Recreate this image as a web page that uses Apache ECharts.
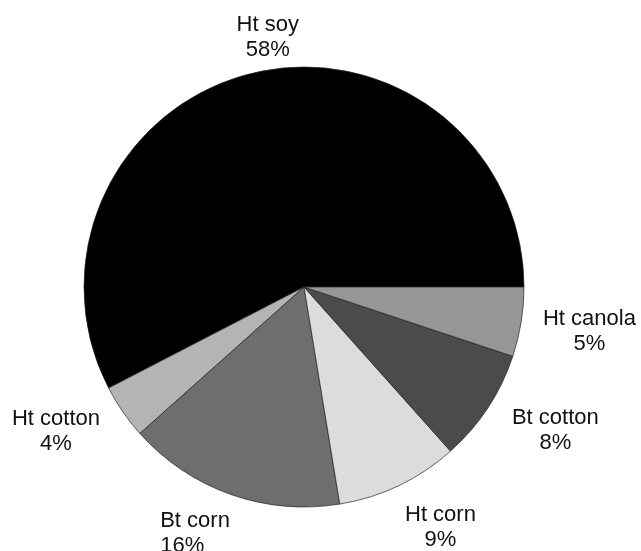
<!DOCTYPE html>
<html>
<head>
<meta charset="utf-8">
<script src="https://cdn.jsdelivr.net/npm/echarts@6/dist/echarts.min.js"></script>
<style>
  html, body { margin: 0; padding: 0; background: #fff; }
  #chart { width: 641px; height: 551px; }
</style>
</head>
<body>
<div id="chart"></div>
<script>
// slice order counter-clockwise from 3 o'clock
var names = ["Ht soy", "Ht cotton", "Bt corn", "Ht corn", "Bt cotton", "Ht canola"];
var shares = [57.6, 4.0, 16.0, 9.0, 8.3, 5.1];
var colors = ["#000000", "#b4b4b4", "#6e6e6e", "#dcdcdc", "#4b4b4b", "#969696"];

// label tweaks (px) on top of the outside-end placement, and text alignment
var labelNudge = [[26, 6], [-20, -13], [-21, -3], [22, 1], [20, -9], [5, -1]];
var labelAlign = ["center", "center", "left", "center", "center", "center"];

var cx = 304, cy = 287, radius = 220;
var total = shares.reduce(function (a, b) { return a + b; }, 0);

// mid angle of each slice (degrees, ccw from east)
var midAngles = [];
var acc = 0;
for (var i = 0; i < shares.length; i++) {
  var sweep = shares[i] / total * 360;
  midAngles.push(acc + sweep / 2);
  acc += sweep;
}

var chart = echarts.init(document.getElementById("chart"));

var option = {
  backgroundColor: "#fff",
  animation: false,
  series: [{
    type: "pie",
    center: [cx, cy],
    radius: radius,
    startAngle: 0,
    clockwise: false,
    data: names.map(function (n, i) {
      return { name: n, value: shares[i], itemStyle: { color: colors[i] } };
    }),
    itemStyle: { borderColor: "#222", borderWidth: 0.7 },
    label: {
      show: true,
      position: "outside",
      overflow: "none",
      fontFamily: "Liberation Sans, Arial, sans-serif",
      fontSize: 22,
      lineHeight: 25,
      color: "#111",
      formatter: function (p) {
        return p.name + "\n" + Math.round(p.percent) + "%";
      }
    },
    labelLine: { show: false },
    labelLayout: function (p) {
      var k = p.dataIndex;
      var a = midAngles[k] * Math.PI / 180;
      var c = Math.cos(a), s = Math.sin(a);
      var hw = p.labelRect.width / 2, hh = p.labelRect.height / 2;
      var ext = Math.sqrt(Math.pow(hw * c, 2) + Math.pow(hh * s, 2));
      var d = radius + 18 + ext;
      var x = cx + d * c + labelNudge[k][0];
      var y = cy - d * s + labelNudge[k][1];
      if (labelAlign[k] === "left") x -= hw;
      return {
        x: x,
        y: y,
        align: labelAlign[k],
        verticalAlign: "middle"
      };
    }
  }]
};

chart.setOption(option);
</script>
</body>
</html>
